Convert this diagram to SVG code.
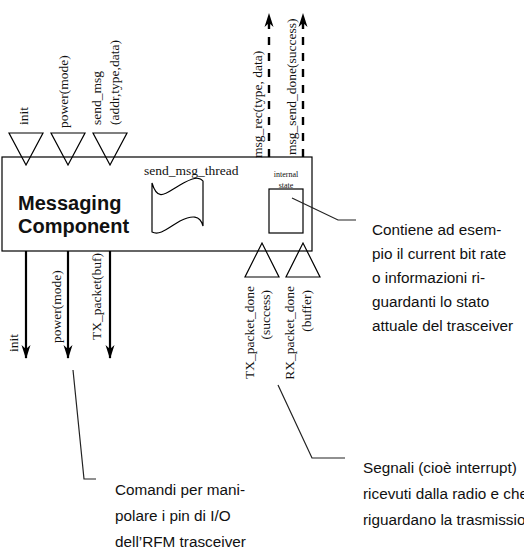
<svg xmlns="http://www.w3.org/2000/svg" width="524" height="557" viewBox="0 0 524 557">
<defs>
<style>
.ln{stroke:#000;fill:none;stroke-width:1.2}
.tri{stroke:#000;fill:none;stroke-width:1.2}
.arr{stroke:#000;fill:none;stroke-width:2.2}
.dash{stroke:#000;fill:none;stroke-width:2.4;stroke-dasharray:8 8}
.call{stroke:#222;fill:none;stroke-width:1.2}
.sr{font-family:"Liberation Serif","Times New Roman",serif;font-size:13.5px;fill:#111}
.ss{font-family:"Liberation Sans",Arial,sans-serif;font-size:15.3px;fill:#111}
.title{font-family:"Liberation Sans",Arial,sans-serif;font-size:20px;font-weight:bold;fill:#111}
.tiny{font-family:"Liberation Serif","Times New Roman",serif;font-size:8px;fill:#111}
</style>
<marker id="ah" markerUnits="userSpaceOnUse" markerWidth="16" markerHeight="12" refX="0" refY="0" viewBox="-14 -6 16 12" orient="auto" overflow="visible">
<path d="M1,0 L-13,-4.5 L-9,0 L-13,4.5 Z" fill="#000"/>
</marker>
</defs>

<g id="component">
<rect x="2" y="157" width="310" height="94" class="ln"/>
<text x="18" y="210" class="title">Messaging</text>
<text x="18" y="233" class="title">Component</text>
</g>

<g id="thread">
<path d="M152,183 C158,203 166,193 180,185 C192,178 199,176 203,181 L203,226 C200,215 192,215 180,221 C168,228 160,236 152,232 Z" class="ln"/>
<text x="144" y="175" class="sr">send_msg_thread</text>
</g>

<g id="internal-state">
<rect x="269" y="189" width="34" height="44" class="ln"/>
<text x="286" y="177" class="tiny" text-anchor="middle">internal</text>
<text x="286" y="188" class="tiny" text-anchor="middle">state</text>
</g>

<g id="in-init">
<polygon points="9,133 43,133 26,165" class="tri"/>
<text transform="translate(28,125) rotate(-90)" class="sr">init</text>
</g>
<g id="in-power">
<polygon points="51,133 85,133 68,165" class="tri"/>
<text transform="translate(68,128) rotate(-90)" class="sr">power(mode)</text>
</g>
<g id="in-send">
<polygon points="93,133 127,133 110,165" class="tri"/>
<text transform="translate(101,125) rotate(-90)" class="sr">send_msg</text>
<text transform="translate(119,125) rotate(-90)" class="sr">(addr,type,data)</text>
</g>

<g id="sig-tx">
<polygon points="245,277 279,277 262,243" class="tri"/>
<text transform="translate(254,286) rotate(-90)" class="sr" text-anchor="end">TX_packet_done</text>
<text transform="translate(270,290) rotate(-90)" class="sr" text-anchor="end">(success)</text>
</g>
<g id="sig-rx">
<polygon points="286,277 320,277 303,243" class="tri"/>
<text transform="translate(294,286) rotate(-90)" class="sr" text-anchor="end">RX_packet_done</text>
<text transform="translate(311,290) rotate(-90)" class="sr" text-anchor="end">(buffer)</text>
</g>

<g id="connectors">
<line x1="26" y1="251" x2="26" y2="358" class="arr" marker-end="url(#ah)"/>
<line x1="68" y1="251" x2="68" y2="358" class="arr" marker-end="url(#ah)"/>
<line x1="110" y1="251" x2="110" y2="358" class="arr" marker-end="url(#ah)"/>
<line x1="269" y1="157" x2="269" y2="14" class="dash" marker-end="url(#ah)"/>
<line x1="303" y1="157" x2="303" y2="14" class="dash" marker-end="url(#ah)"/>
<polyline points="292,198 338,220 356,220" class="call"/>
<polyline points="278,385 312,458 345,458" class="call"/>
<polyline points="73,370 84,479 96,479" class="call"/>
</g>

<g id="out-labels">
<text transform="translate(18,352) rotate(-90)" class="sr">init</text>
<text transform="translate(61,343) rotate(-90)" class="sr">power(mode)</text>
<text transform="translate(101,340) rotate(-90)" class="sr">TX_packet(buf)</text>
<text transform="translate(262,158) rotate(-90)" class="sr">msg_rec(type, data)</text>
<text transform="translate(296,155) rotate(-90)" class="sr">msg_send_done(success)</text>
</g>

<g id="note-state">
<text x="372" y="235" class="ss">Contiene ad esem-</text>
<text x="372" y="259" class="ss">pio il current bit rate</text>
<text x="372" y="283" class="ss">o informazioni ri-</text>
<text x="372" y="307" class="ss">guardanti lo stato</text>
<text x="372" y="331" class="ss">attuale del trasceiver</text>
</g>

<g id="note-signals">
<text x="363" y="473" class="ss">Segnali (cioè interrupt)</text>
<text x="363" y="499" class="ss">ricevuti dalla radio e che</text>
<text x="363" y="525" class="ss">riguardano la trasmissio-</text>
</g>

<g id="note-commands">
<text x="115" y="495" class="ss">Comandi per mani-</text>
<text x="115" y="521" class="ss">polare i pin di I/O</text>
<text x="115" y="547" class="ss">dell’RFM trasceiver</text>
</g>
</svg>
